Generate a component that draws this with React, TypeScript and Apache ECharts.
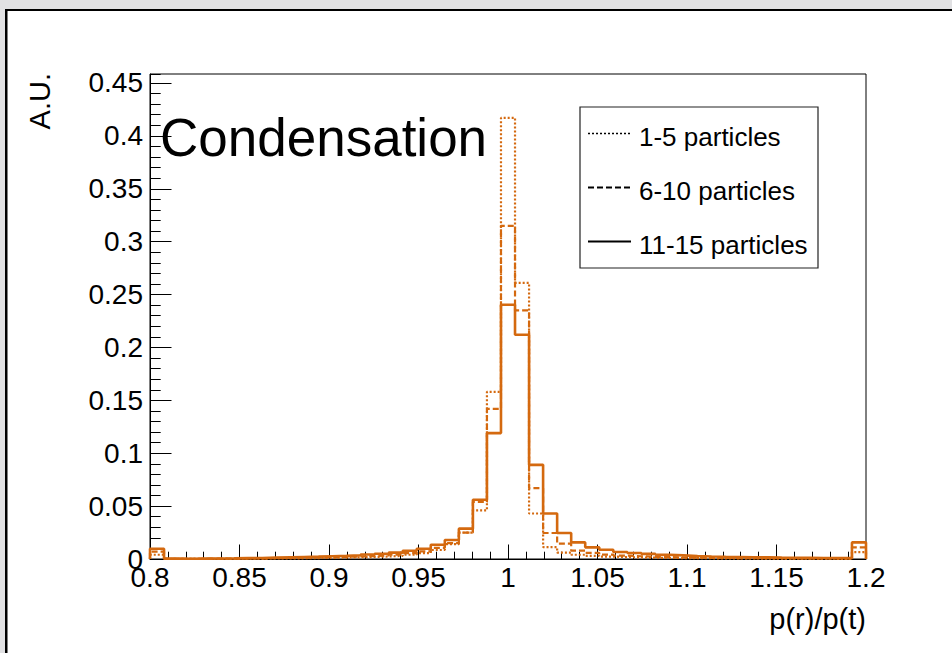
import React, { useEffect, useRef } from "react";
import * as echarts from "echarts";

// ---- data (51 bins from 0.8 to 1.2) ----
const X_MIN = 0.8;
const X_MAX = 1.2;
const Y_MAX = 0.4585;
const X_TICK_STEP = 0.05;
const Y_TICK_STEP = 0.05;

const seriesNames = ["1-5 particles", "6-10 particles", "11-15 particles"];

const dotted1to5 = [
  0.004, 0.0001, 0.0001, 0.0001, 0.0002, 0.0002, 0.0003, 0.0004, 0.0005, 0.0006,
  0.0007, 0.0009, 0.0011, 0.0013, 0.0016, 0.0019, 0.0024, 0.003, 0.004, 0.0055,
  0.0085, 0.014, 0.025, 0.046, 0.158, 0.417, 0.261, 0.043, 0.0113, 0.006,
  0.004, 0.003, 0.0023, 0.0018, 0.0015, 0.0012, 0.001, 0.0009, 0.0008, 0.0007,
  0.0006, 0.0005, 0.0005, 0.0004, 0.0004, 0.0003, 0.0003, 0.0003, 0.0002, 0.0002,
  0.0065,
];

const dashed6to10 = [
  0.007, 0.0002, 0.0002, 0.0003, 0.0003, 0.0004, 0.0005, 0.0006, 0.0008, 0.001,
  0.0012, 0.0014, 0.0017, 0.002, 0.0024, 0.0028, 0.0034, 0.0042, 0.0055, 0.0072,
  0.0105, 0.015, 0.025, 0.054, 0.142, 0.315, 0.235, 0.067, 0.0246, 0.0145,
  0.008, 0.0058, 0.0042, 0.0032, 0.0026, 0.0021, 0.0018, 0.0015, 0.0013, 0.0011,
  0.001, 0.0009, 0.0008, 0.0007, 0.0007, 0.0006, 0.0006, 0.0005, 0.0005, 0.0005,
  0.011,
];

const solid11to15 = [
  0.0097, 0.0004, 0.0003, 0.0004, 0.0005, 0.0006, 0.0008, 0.001, 0.0013, 0.0016,
  0.0019, 0.0022, 0.0026, 0.003, 0.0035, 0.0042, 0.005, 0.006, 0.0078, 0.0097,
  0.0135, 0.018, 0.0287, 0.056, 0.119, 0.2404, 0.212, 0.089, 0.043, 0.0246,
  0.0157, 0.011, 0.0088, 0.0066, 0.0057, 0.0048, 0.004, 0.0034, 0.0028, 0.0024,
  0.0021, 0.0019, 0.0017, 0.0015, 0.0013, 0.0012, 0.0011, 0.001, 0.0009, 0.0008,
  0.0157,
];

const HIST_COLOR = "#d4690f";
const FONT = "'Liberation Sans', Arial, Helvetica, sans-serif";

function stepData(vals: number[]): number[][] {
  const w = (X_MAX - X_MIN) / vals.length;
  const pts: number[][] = [[X_MIN, 0]];
  vals.forEach((v, i) => pts.push([X_MIN + i * w, v]));
  pts.push([X_MAX, vals[vals.length - 1]]);
  pts.push([X_MAX, 0]);
  return pts;
}

const fmt = (v: number) => String(parseFloat(v.toFixed(4)));

export default function App() {
  const ref = useRef<HTMLDivElement>(null);

  useEffect(() => {
    if (!ref.current) return;
    const chart = echarts.init(ref.current, undefined, { renderer: "svg" });

    const gridLeft = 150;
    const gridRight = 86;
    const gridTop = 74;
    const gridBottom = 94;
    const gridWidth = 952 - gridLeft - gridRight;

    const legendX = 580;
    const legendY = 107;
    const rows = [133.5, 187.5, 241.5];
    const lineTypes: any[] = [[2, 2], [6, 3], "solid"];
    const lineWidths = [1.5, 2, 2];

    const legendEls: any[] = [
      {
        type: "rect",
        z: 100,
        shape: { x: legendX, y: legendY, width: 238, height: 161 },
        style: { fill: "#fff", stroke: "#222", lineWidth: 1.2 },
      },
    ];
    seriesNames.forEach((name, i) => {
      legendEls.push({
        type: "line",
        z: 101,
        shape: { x1: 588, y1: rows[i], x2: 631, y2: rows[i] },
        style: {
          stroke: "#000",
          lineWidth: lineWidths[i],
          lineDash: Array.isArray(lineTypes[i]) ? lineTypes[i] : null,
        },
      });
      legendEls.push({
        type: "text",
        z: 101,
        x: 639,
        y: rows[i] + 3,
        style: {
          text: name,
          fill: "#000",
          fontSize: 26,
          fontFamily: FONT,
          align: "left",
          verticalAlign: "middle",
        },
      });
    });

    const mkSeries = (name: string, vals: number[], type: any, width: number) => ({
      name,
      type: "line",
      step: "end",
      data: stepData(vals),
      symbol: "none",
      showSymbol: false,
      clip: true,
      lineStyle: { color: HIST_COLOR, width, type },
      itemStyle: { color: HIST_COLOR },
    });

    chart.setOption({
      animation: false,
      backgroundColor: "#fff",
      grid: {
        left: gridLeft,
        right: gridRight,
        top: gridTop,
        bottom: gridBottom,
        show: true,
        borderColor: "#000",
        borderWidth: 1,
        backgroundColor: "transparent",
      },
      xAxis: {
        type: "value",
        min: X_MIN,
        max: X_MAX,
        interval: X_TICK_STEP,
        axisLine: { show: true, lineStyle: { color: "#000", width: 1 } },
        axisTick: { show: true, inside: true, length: 14.5, lineStyle: { color: "#000", width: 1 } },
        minorTick: { show: true, splitNumber: 5, length: 7.3, lineStyle: { color: "#000", width: 1 } },
        axisLabel: {
          color: "#000",
          fontSize: 28,
          fontFamily: FONT,
          margin: 4,
          formatter: (v: number) => fmt(v),
        },
        splitLine: { show: false },
      },
      yAxis: [
        {
          type: "value",
          min: 0,
          max: Y_MAX,
          interval: Y_TICK_STEP,
          position: "left",
          axisLine: { show: true, lineStyle: { color: "#000", width: 1 } },
          axisTick: { show: true, inside: true, length: 21.5, lineStyle: { color: "#000", width: 1 } },
          axisLabel: {
            color: "#000",
            fontSize: 28,
            fontFamily: FONT,
            margin: 7,
            showMaxLabel: false,
            formatter: (v: number) => fmt(v),
          },
          splitLine: { show: false },
        },
        {
          type: "value",
          min: 0,
          max: Y_MAX,
          interval: 0.01,
          position: "right",
          offset: -gridWidth,
          axisLine: { show: false },
          axisTick: { show: true, inside: false, length: 10.7, lineStyle: { color: "#000", width: 1 } },
          axisLabel: { show: false },
          splitLine: { show: false },
        },
      ],
      series: [
        mkSeries(seriesNames[0], dotted1to5, [2, 2], 2.2),
        mkSeries(seriesNames[1], dashed6to10, [6, 3], 2.2),
        mkSeries(seriesNames[2], solid11to15, "solid", 2.6),
      ],
      graphic: [
        { type: "rect", z: 200, shape: { x: 0, y: 0, width: 952, height: 9 }, style: { fill: "#e1e1e3" } },
        { type: "rect", z: 200, shape: { x: 0, y: 0, width: 5, height: 653 }, style: { fill: "#e1e1e3" } },
        { type: "rect", z: 201, shape: { x: 5, y: 9, width: 947, height: 2 }, style: { fill: "#000" } },
        { type: "rect", z: 201, shape: { x: 5, y: 9, width: 2.5, height: 644 }, style: { fill: "#000" } },
        {
          type: "text",
          z: 50,
          x: 160,
          y: 137,
          style: {
            text: "Condensation",
            fill: "#000",
            fontSize: 53,
            fontFamily: FONT,
            align: "left",
            verticalAlign: "middle",
          },
        },
        {
          type: "text",
          z: 50,
          x: 40,
          y: 73,
          rotation: Math.PI / 2,
          style: {
            text: "A.U.",
            fill: "#000",
            fontSize: 29,
            fontFamily: FONT,
            align: "right",
            verticalAlign: "middle",
          },
        },
        {
          type: "text",
          z: 50,
          x: 866,
          y: 619,
          style: {
            text: "p(r)/p(t)",
            fill: "#000",
            fontSize: 29,
            fontFamily: FONT,
            align: "right",
            verticalAlign: "middle",
          },
        },
        ...legendEls,
      ],
    });

    return () => chart.dispose();
  }, []);

  return (
    <div
      ref={ref}
      style={{ position: "fixed", left: 0, top: 0, width: 952, height: 653, background: "#fff" }}
    />
  );
}
